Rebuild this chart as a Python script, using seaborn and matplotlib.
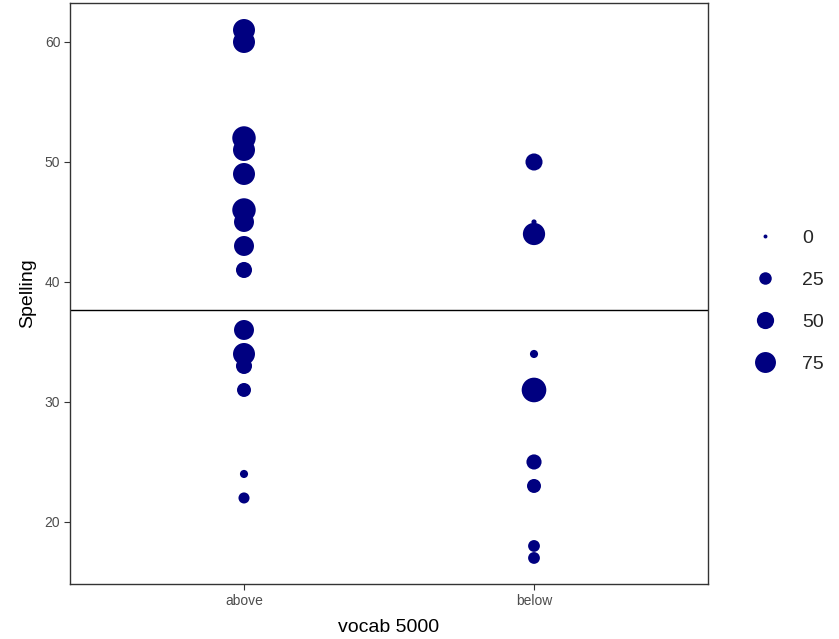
import seaborn as sns
import pandas as pd
import numpy as np
import matplotlib.pyplot as plt
from matplotlib.lines import Line2D

# dados
vocab = ["above"] * 15 + ["below"] * 9
spelling = [61, 60, 52, 51, 49, 46, 45, 43, 41, 36, 34, 33, 31, 24, 22,
            50, 45, 44, 34, 31, 25, 23, 18, 17]
contagem = [83, 83, 95, 83, 83, 95, 68, 68, 43, 68, 83, 43, 32, 9, 19,
            49, 2, 85, 9, 105, 38, 32, 22, 22]
legenda_breaks = [0, 25, 50, 75]
linha_ref = 37.7

df = pd.DataFrame({"vocab": vocab, "Spelling": spelling, "n": contagem})

# area do marcador linear no valor
def tamanho(v):
    return 8 + 2.92 * v

mapa_tamanhos = {v: tamanho(v) for v in df["n"].unique()}

sns.set_style("white")
plt.rcParams['font.family'] = ['Liberation Sans', 'DejaVu Sans']

fig = plt.figure(figsize=(8.39, 6.39), dpi=100)
ax = fig.add_axes([70 / 839, 1 - 584 / 639, 638 / 839, 581 / 639])

sns.scatterplot(data=df, x="vocab", y="Spelling", size="n", sizes=mapa_tamanhos,
                color="#000080", edgecolor="none", linewidth=0, legend=False, ax=ax)

ax.axhline(linha_ref, color="black", linewidth=1)

ax.set_xlim(-0.6, 1.6)
ax.set_ylim(14.83, 63.25)
ax.set_yticks([20, 30, 40, 50, 60])
ax.set_xlabel("vocab 5000", fontsize=14, color="black", labelpad=8)
ax.set_ylabel("Spelling", fontsize=14, color="black", labelpad=6)
ax.tick_params(axis="both", which="major", length=4, width=0.8, color="#333333",
               labelsize=10, labelcolor="#4d4d4d", direction="out", pad=3)
ax.tick_params(left=True, bottom=True)
for sp in ax.spines.values():
    sp.set_visible(True)
    sp.set_color("#333333")
    sp.set_linewidth(1)

# legenda de tamanhos
handles = [Line2D([], [], marker="o", linestyle="", color="#000080", markeredgewidth=0,
                  markersize=np.sqrt(tamanho(b))) for b in legenda_breaks]
leg = fig.legend(handles, [str(b) for b in legenda_breaks], loc="center left",
                 bbox_to_anchor=(736 / 839, 1 - 301 / 639), frameon=False,
                 fontsize=14, labelspacing=1.25, handletextpad=0.9, borderpad=0)

plt.savefig("out.png", dpi=100)
